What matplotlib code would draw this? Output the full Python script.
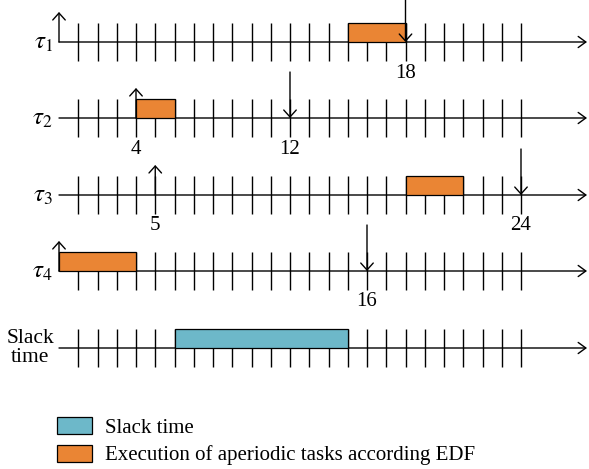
"""EDF schedule with slack time - timeline chart"""
import matplotlib
matplotlib.use('Agg')
import matplotlib.pyplot as plt
import matplotlib.patches as mpatches

plt.rcParams['font.family'] = 'Liberation Serif'
plt.rcParams['mathtext.fontset'] = 'stix'

ORANGE = '#EA8534'
BLUE = '#6DB8C9'
FS = 15

task_labels = [r'$\tau_1$', r'$\tau_2$', r'$\tau_3$', r'$\tau_4$']
release = [0, 4, 5, 0]
deadline = [18, 12, 24, 16]
exec_start = [15, 4, 18, 0]
exec_end = [18, 6, 21, 4]
slack_start, slack_end = 6, 15
n_ticks = 24

# layout (pixels)
W, H = 589, 469
X0, PX = 59, 19.25
ROW_Y = [42, 118, 195, 271, 348]
TICK = 19
X_END = (587 - X0) / PX

fig = plt.figure(figsize=(W / 100, H / 100), dpi=100)
ax = fig.add_axes([0, 0, 1, 1])
ax.set_xlim(-X0 / PX, (W - X0) / PX)
ax.set_ylim(H, 0)
ax.axis('off')


def arrow(x1, y1, x2, y2, hl=0.5, hw=0.45):
    ax.annotate('', xy=(x2, y2), xytext=(x1, y1),
                arrowprops=dict(arrowstyle=f'->,head_length={hl},head_width={hw}',
                                color='k', lw=1.0, shrinkA=0, shrinkB=0,
                                mutation_scale=10))


def timeline(y):
    arrow(0, y, X_END, y, hl=0.55, hw=0.4)
    ax.vlines(range(1, n_ticks + 1), y - TICK, y + TICK, color='k', lw=1.0, zorder=2)


def block(s, e, y, fc):
    ax.add_patch(mpatches.Rectangle((s, y - TICK), e - s, TICK, fc=fc, ec='k',
                                    lw=0.9, zorder=3))


for i, y in enumerate(ROW_Y[:4]):
    timeline(y)
    block(exec_start[i], exec_end[i], y, ORANGE)
    arrow(release[i], y, release[i], y - 30)
    arrow(deadline[i], y - 46, deadline[i], y)
    ax.text(-6 / PX, y + 1, task_labels[i], ha='right', va='center', fontsize=FS + 3)
    for t in [r for r in [release[i]] if r > 0] + [deadline[i]]:
        ax.text(t, y + 31, str(t), ha='center', va='center', fontsize=FS)

ys = ROW_Y[4]
timeline(ys)
block(slack_start, slack_end, ys, BLUE)
ax.text(-29 / PX, ys, 'Slack\ntime', ha='center', va='center', fontsize=FS + 0.5,
        linespacing=1.0)

legend = [
    mpatches.Patch(fc=BLUE, ec='k', lw=0.9, label='Slack time'),
    mpatches.Patch(fc=ORANGE, ec='k', lw=0.9, label='Execution of aperiodic tasks according EDF'),
]
ax.legend(handles=legend, loc='upper left', bbox_to_anchor=(57 / W, 1 - 417 / H),
          frameon=False, fontsize=FS, borderpad=0, borderaxespad=0,
          handlelength=1.7, handleheight=0.88, handletextpad=0.6, labelspacing=0.33)

plt.savefig('out.png', dpi=100, facecolor='white')
plt.close()
